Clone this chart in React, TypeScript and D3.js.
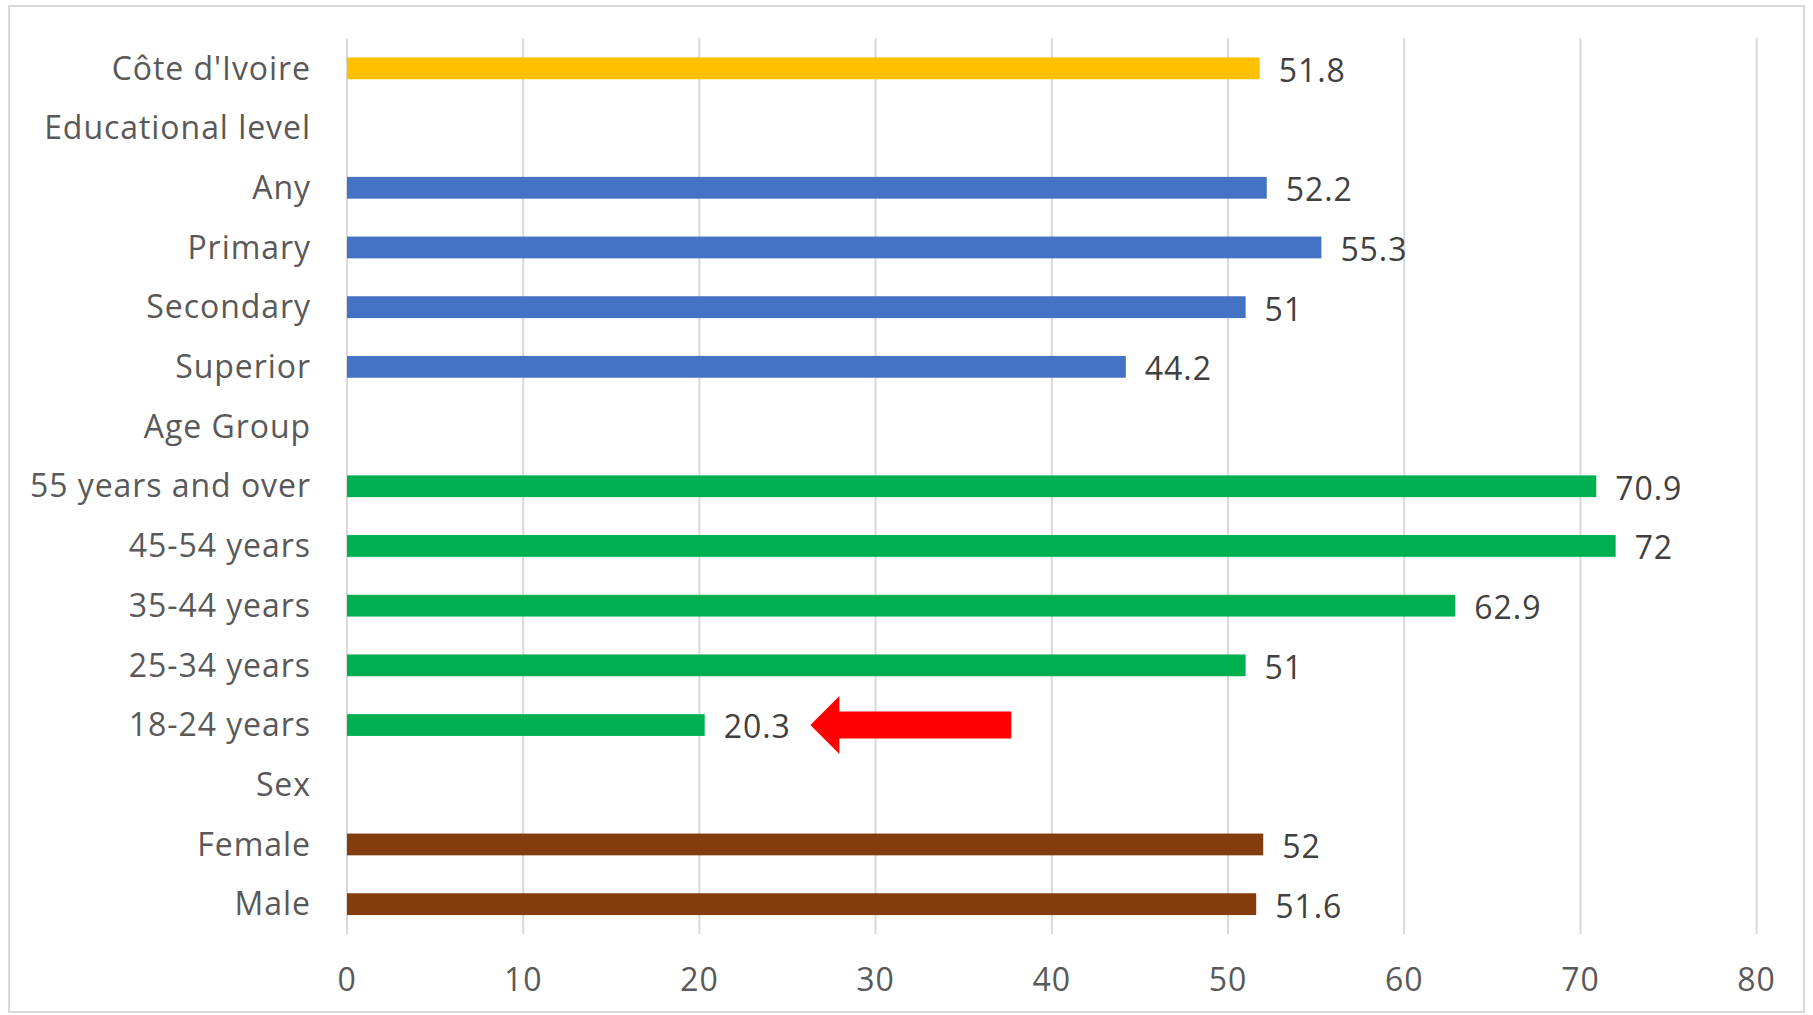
import React from "react";
import * as d3 from "d3";

const categories = [
  "Côte d'Ivoire",
  "Educational level",
  "Any",
  "Primary",
  "Secondary",
  "Superior",
  "Age Group",
  "55 years and over",
  "45-54 years",
  "35-44 years",
  "25-34 years",
  "18-24 years",
  "Sex",
  "Female",
  "Male",
];

const values: (number | null)[] = [
  51.8, null, 52.2, 55.3, 51, 44.2, null, 70.9, 72, 62.9, 51, 20.3, null, 52, 51.6,
];

const groups = [
  "country", "header", "education", "education", "education", "education",
  "header", "age", "age", "age", "age", "age", "header", "sex", "sex",
];

const groupColors: Record<string, string> = {
  country: "#FFC000",
  education: "#4472C4",
  age: "#00B050",
  sex: "#843C0C",
  header: "none",
};

const xTicks = [0, 10, 20, 30, 40, 50, 60, 70, 80];

// highlight arrow pointing at the youngest age group, in data units
const arrowRow = "18-24 years";
const arrowTip = 26.3;
const arrowTail = 37.7;

const W = 1813;
const H = 1015;
const plot = { left: 347, right: 1756.6, top: 38.5, bottom: 934 };
const FONT = "'Open Sans', 'Noto Sans', sans-serif";
const FS = 32;
const LS = 0.95;

export default function App() {
  const x = d3.scaleLinear().domain([0, 80]).range([plot.left, plot.right]);
  const y = d3
    .scaleBand<string>()
    .domain(categories)
    .range([plot.top, plot.bottom])
    .paddingInner(0.635)
    .paddingOuter(0.3175);
  const bh = y.bandwidth();

  const ay = (y(arrowRow) ?? 0) + bh / 2;
  const tipX = x(arrowTip);
  const tailX = x(arrowTail);
  const headLen = 29;
  const headHalf = 29;
  const shaftHalf = 13.5;
  const arrowPath = [
    [tipX, ay],
    [tipX + headLen, ay - headHalf],
    [tipX + headLen, ay - shaftHalf],
    [tailX, ay - shaftHalf],
    [tailX, ay + shaftHalf],
    [tipX + headLen, ay + shaftHalf],
    [tipX + headLen, ay + headHalf],
  ];

  return (
    <svg
      width={W}
      height={H}
      style={{ position: "absolute", left: 0, top: 0, background: "#fff" }}
      fontFamily={FONT}
      letterSpacing={LS}
    >
      <rect x={0} y={0} width={W} height={H} fill="#fff" />
      <rect x={9} y={6} width={1795} height={1006} fill="none" stroke="#d9d9d9" strokeWidth={2} />

      {xTicks.map((t) => (
        <line
          key={"g" + t}
          x1={x(t)}
          x2={x(t)}
          y1={plot.top}
          y2={plot.bottom}
          stroke="#d9d9d9"
          strokeWidth={2}
        />
      ))}

      {categories.map((c, i) => {
        const v = values[i];
        const cy = (y(c) ?? 0) + bh / 2;
        return (
          <g key={c}>
            <text
              x={311}
              y={cy}
              dy="0.35em"
              textAnchor="end"
              fontSize={FS}
              fill="#595959"
            >
              {c}
            </text>
            {v !== null && (
              <>
                <rect
                  x={x(0)}
                  y={y(c)}
                  width={x(v) - x(0)}
                  height={bh}
                  fill={groupColors[groups[i]]}
                />
                <text
                  x={x(v) + 19}
                  y={cy}
                  dy="0.42em"
                  fontSize={FS}
                  fill="#404040"
                >
                  {String(v)}
                </text>
              </>
            )}
          </g>
        );
      })}

      {xTicks.map((t) => (
        <text
          key={"t" + t}
          x={x(t)}
          y={980}
          dy="0.35em"
          textAnchor="middle"
          fontSize={FS}
          fill="#595959"
        >
          {t}
        </text>
      ))}

      <path d={d3.line()(arrowPath as [number, number][]) + "Z"} fill="#FF0000" />
    </svg>
  );
}
